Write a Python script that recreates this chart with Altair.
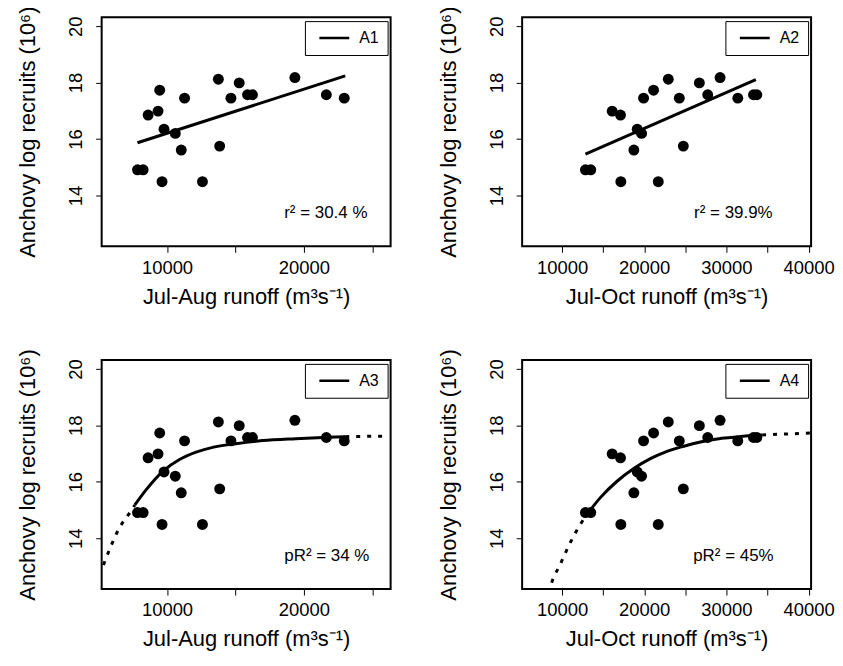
import altair as alt
import pandas as pd

FONT = "Liberation Sans"

# ---- data ----
recruits = [14.91, 14.91, 17.73, 16.99, 16.85, 16.35, 14.49, 16.20, 15.61, 14.49,
            18.12, 15.75, 17.99, 18.18, 17.45, 17.45, 17.45, 17.57, 17.57, 17.57]
runoff_jul_aug = [7845, 8257, 9467, 9346, 8620, 9782, 9637, 10605, 11041, 12590,
                  13753, 13849, 15278, 19345, 11283, 14672, 22952, 15883, 16246, 21645]
runoff_jul_oct = [12846, 13496, 21138, 16098, 17114, 19146, 17154, 19675, 18740, 21707,
                  22927, 24756, 26707, 29228, 19919, 24268, 31382, 27724, 33293, 33700]

# A1 linear fit
a1_x = [7845, 23025]
a1_y = [15.87, 18.24]
# A2 linear fit
a2_x = [12846, 33577]
a2_y = [15.47, 18.11]
# A3 curve (solid part)
a3_x = [7648, 8497, 9710, 10915, 12127, 13340, 15031, 16970, 19387, 21805, 23025]
a3_y = [15.18, 15.73, 16.38, 16.79, 17.05, 17.22, 17.35, 17.46, 17.53, 17.58, 17.60]
# A3 extrapolation (dotted)
a3_lo_x = [5354, 5900, 6500, 7285, 7648]
a3_lo_y = [13.05, 13.72, 14.35, 14.91, 15.18]
a3_hi_x = [23025, 26100]
a3_hi_y = [17.60, 17.62]
# A4 curve (solid part)
a4_x = [13249, 14661, 16694, 18726, 20749, 22779, 24811, 26832, 28864, 30896, 32917, 34340]
a4_y = [14.93, 15.44, 16.02, 16.47, 16.82, 17.08, 17.26, 17.41, 17.52, 17.58, 17.64, 17.66]
# A4 extrapolation (dotted)
a4_lo_x = [8400, 8576, 9793, 11010, 12227, 13249]
a4_lo_y = [12.05, 12.26, 13.08, 13.85, 14.49, 14.93]
a4_hi_x = [34340, 40300]
a4_hi_y = [17.66, 17.73]

legend_labels = ["A1", "A2", "A3", "A4"]
notes = ["r\u00b2 = 30.4 %", "r\u00b2 = 39.9%", "pR\u00b2 = 34 %", "pR\u00b2 = 45%"]
y_title = "Anchovy log recruits (10\u2076)"
x_title_ja = "Jul-Aug runoff (m\u00b3s\u207b\u00b9)"
x_title_jo = "Jul-Oct runoff (m\u00b3s\u207b\u00b9)"
y_ticks = [14, 16, 18, 20]
x_ticks_ja = [10000, 15000, 20000, 25000]
x_ticks_jo = [10000, 15000, 20000, 25000, 30000, 35000, 40000]

W, H = 290, 230
Y_DOM = [12.2, 20.32]


def panel(xs, xdom, xticks, xtitle, fit_x, fit_y, label, note, note_x,
          curve=False, lo=None, hi=None):
    xenc = alt.X(
        "runoff:Q",
        scale=alt.Scale(domain=xdom, nice=False, zero=False),
        axis=alt.Axis(
            title=xtitle, values=xticks, format="d",
            labelExpr="datum.value % 10000 == 0 ? datum.label : ''",
            grid=False, domain=False, tickSize=6, tickColor="black", tickWidth=1,
            labelFont=FONT, labelFontSize=18.5, labelColor="black", labelPadding=6,
            labelBaseline="top", labelFlush=False, labelOverlap=False, labelBound=False,
            titleFont=FONT, titleFontSize=22, titleFontWeight="normal", titleColor="black",
            titleBaseline="alphabetic", titlePadding=26, minExtent=31, maxExtent=31,
        ),
    )
    yenc = alt.Y(
        "recruits:Q",
        scale=alt.Scale(domain=Y_DOM, nice=False, zero=False),
        axis=alt.Axis(
            title=y_title, values=y_ticks,
            grid=False, domain=False, tickSize=6, tickColor="black", tickWidth=1,
            labelFont=FONT, labelFontSize=18.5, labelColor="black", labelPadding=14,
            labelAngle=-90, labelAlign="center", labelBaseline="alphabetic",
            labelFlush=False, labelOverlap=False,
            titleFont=FONT, titleFontSize=22, titleFontWeight="normal", titleColor="black",
            titleBaseline="alphabetic", titlePadding=27, minExtent=40, maxExtent=40,
        ),
    )
    pts = pd.DataFrame({"runoff": xs, "recruits": recruits})
    points = alt.Chart(pts).mark_circle(size=120, color="black", opacity=1).encode(x=xenc, y=yenc)

    fit = pd.DataFrame({"runoff": fit_x, "recruits": fit_y, "model": label})
    solid = alt.Chart(fit).mark_line(
        strokeWidth=3, clip=True, interpolate="monotone" if curve else "linear"
    ).encode(
        x=xenc, y=yenc,
        color=alt.Color(
            "model:N",
            scale=alt.Scale(domain=[label], range=["black"]),
            legend=alt.Legend(
                title=None, orient="none", legendX=204, legendY=4,
                symbolType="stroke", symbolSize=900, symbolStrokeWidth=2.5,
                symbolStrokeColor="black", clipHeight=18,
                labelFont=FONT, labelFontSize=16, labelColor="black", labelOffset=8.5,
                padding=8, strokeColor="black", fillColor="white", cornerRadius=0,
                symbolOffset=5,
            ),
        ),
    )
    layers = [points, solid]
    if lo is not None:
        dots = pd.DataFrame({
            "runoff": lo[0] + hi[0],
            "recruits": lo[1] + hi[1],
            "seg": ["lo"] * len(lo[0]) + ["hi"] * len(hi[0]),
        })
        dotted = alt.Chart(dots).mark_line(
            strokeWidth=3, color="black", strokeDash=[4, 7], clip=True, interpolate="monotone"
        ).encode(x=xenc, y=yenc, detail="seg:N")
        layers.append(dotted)
    txt = alt.Chart(pd.DataFrame({"note": [note]})).mark_text(
        font=FONT, fontSize=17, color="black", align="center", baseline="middle"
    ).encode(text="note:N", x=alt.value(note_x), y=alt.value(197))
    layers.append(txt)
    return alt.layer(*layers).properties(width=W, height=H)


p1 = panel(runoff_jul_aug, [5225, 26340], x_ticks_ja, x_title_ja, a1_x, a1_y,
           legend_labels[0], notes[0], 225)
p2 = panel(runoff_jul_oct, [5145, 40300], x_ticks_jo, x_title_jo, a2_x, a2_y,
           legend_labels[1], notes[1], 212)
p3 = panel(runoff_jul_aug, [5225, 26340], x_ticks_ja, x_title_ja, a3_x, a3_y,
           legend_labels[2], notes[2], 226, curve=True,
           lo=(a3_lo_x, a3_lo_y), hi=(a3_hi_x, a3_hi_y))
p4 = panel(runoff_jul_oct, [5145, 40300], x_ticks_jo, x_title_jo, a4_x, a4_y,
           legend_labels[3], notes[3], 212, curve=True,
           lo=(a4_lo_x, a4_lo_y), hi=(a4_hi_x, a4_hi_y))

chart = (
    alt.concat(p1, p2, p3, p4, columns=2, spacing={"row": 114, "column": 132}, bounds="flush")
    .resolve_scale(x="independent", y="independent", color="independent")
    .properties(padding={"left": 7, "top": -5, "right": -1, "bottom": 0}, background="white")
    .configure_view(stroke="black", strokeWidth=2)
)

chart.save("out.html", embed_options={"renderer": "svg", "actions": False})
